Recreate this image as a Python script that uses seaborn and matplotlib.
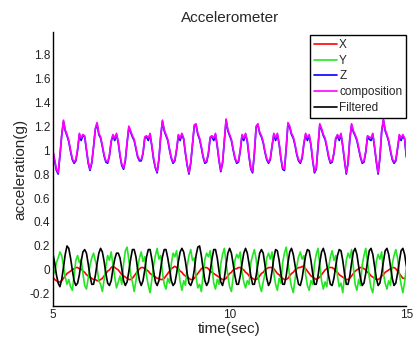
import numpy as np
import matplotlib.pyplot as plt
import seaborn as sns

# sample clock of the recording (20 Hz, 5 s .. 15 s)
time = np.linspace(5, 15, 201)

# values, one row = 0.5 s
acc_x = [
    -0.06, -0.08, -0.09, -0.10, -0.10, -0.09, -0.07, -0.05, -0.03, -0.02,
    -0.01, 0.00, 0.01, 0.02, 0.02, 0.01, 0.01, -0.01, -0.02, -0.04,
    -0.05, -0.06, -0.07, -0.08, -0.08, -0.09, -0.09, -0.08, -0.07, -0.05,
    -0.03, -0.01, 0.00, 0.02, 0.03, 0.02, 0.01, 0.00, -0.02, -0.04,
    -0.05, -0.06, -0.07, -0.08, -0.08, -0.07, -0.05, -0.03, -0.01, 0.01,
    0.02, 0.02, 0.01, 0.00, -0.01, -0.03, -0.04, -0.05, -0.06, -0.07,
    -0.07, -0.08, -0.08, -0.07, -0.05, -0.03, -0.01, 0.01, 0.02, 0.03,
    0.02, 0.01, -0.01, -0.02, -0.04, -0.05, -0.06, -0.07, -0.08, -0.08,
    -0.07, -0.05, -0.03, -0.01, 0.01, 0.02, 0.02, 0.02, 0.01, -0.01,
    -0.02, -0.03, -0.04, -0.05, -0.06, -0.07, -0.08, -0.08, -0.07, -0.05,
    -0.03, -0.02, 0.00, 0.01, 0.01, 0.02, 0.02, 0.01, 0.00, -0.02,
    -0.03, -0.05, -0.06, -0.07, -0.08, -0.08, -0.07, -0.05, -0.03, -0.02,
    0.00, 0.01, 0.02, 0.02, 0.02, 0.01, -0.01, -0.03, -0.04, -0.06,
    -0.07, -0.08, -0.08, -0.07, -0.05, -0.03, -0.02, 0.00, 0.01, 0.02,
    0.02, 0.03, 0.02, 0.01, -0.01, -0.03, -0.05, -0.06, -0.07, -0.08,
    -0.07, -0.06, -0.04, -0.02, 0.00, 0.01, 0.02, 0.02, 0.02, 0.01,
    -0.01, -0.02, -0.04, -0.05, -0.06, -0.07, -0.08, -0.08, -0.07, -0.05,
    -0.03, -0.01, 0.00, 0.01, 0.02, 0.02, 0.01, 0.00, -0.02, -0.03,
    -0.05, -0.06, -0.07, -0.08, -0.08, -0.07, -0.05, -0.04, -0.02, -0.01,
    0.00, 0.01, 0.02, 0.02, 0.01, -0.01, -0.03, -0.05, -0.07, -0.07,
    -0.06,
]

acc_y = [
    -0.04, -0.02, 0.06, 0.10, 0.15, 0.12, 0.03, -0.06, -0.12, -0.08,
    -0.14, -0.17, -0.05, 0.08, 0.12, 0.06, 0.09, -0.03, -0.13, -0.16,
    -0.07, 0.04, 0.10, 0.14, 0.08, 0.02, -0.09, -0.12, -0.18, -0.08,
    0.03, 0.12, 0.08, 0.15, 0.04, -0.06, -0.15, -0.10, -0.05, -0.12,
    0.05, 0.16, 0.19, 0.08, -0.04, -0.10, -0.18, -0.09, 0.02, 0.10,
    0.15, 0.07, 0.11, -0.05, -0.13, -0.19, -0.08, 0.04, 0.12, 0.18,
    0.09, 0.12, -0.02, -0.12, -0.16, -0.07, -0.11, 0.05, 0.14, 0.11,
    0.16, 0.02, -0.10, -0.17, -0.09, -0.13, 0.03, 0.12, 0.17, 0.08,
    0.10, -0.06, -0.15, -0.12, -0.18, -0.04, 0.09, 0.14, 0.11, 0.16,
    0.03, -0.11, -0.16, -0.08, -0.12, 0.05, 0.13, 0.18, 0.06, -0.05,
    -0.14, -0.18, -0.06, 0.08, 0.13, 0.10, 0.15, -0.02, -0.10, -0.15,
    -0.09, -0.12, 0.06, 0.12, 0.17, 0.09, -0.04, -0.13, -0.18, -0.10,
    -0.03, 0.10, 0.14, 0.09, 0.15, -0.03, -0.12, -0.17, -0.07, -0.11,
    0.06, 0.14, 0.19, 0.07, -0.06, -0.14, -0.19, -0.08, 0.03, 0.11,
    0.15, 0.09, 0.12, -0.04, -0.13, -0.17, -0.09, -0.12, 0.05, 0.13,
    0.18, 0.04, -0.09, -0.16, -0.10, -0.14, 0.02, 0.11, 0.16, 0.08,
    0.12, -0.05, -0.14, -0.11, -0.19, -0.05, 0.08, 0.14, 0.10, 0.17,
    0.02, -0.12, -0.17, -0.08, -0.13, 0.04, 0.12, 0.18, 0.07, -0.06,
    -0.15, -0.19, -0.06, 0.07, 0.13, 0.09, 0.15, -0.03, -0.11, -0.16,
    -0.09, -0.13, 0.05, 0.12, 0.17, 0.10, -0.03, -0.12, -0.19, -0.10,
    0.02,
]

acc_z = [
    0.99, 0.91, 0.83, 0.80, 0.95, 1.12, 1.24, 1.16, 1.12, 1.07,
    0.99, 0.92, 0.89, 0.91, 1.00, 1.13, 1.08, 1.12, 1.11, 1.00,
    0.89, 0.83, 0.89, 1.02, 1.17, 1.22, 1.13, 1.10, 1.03, 0.95,
    0.90, 0.89, 0.95, 1.07, 1.12, 1.08, 1.13, 1.06, 0.95, 0.87,
    0.84, 0.91, 1.06, 1.19, 1.15, 1.11, 1.08, 1.01, 0.94, 0.91,
    0.91, 0.97, 1.10, 1.11, 1.08, 1.13, 1.03, 0.92, 0.85, 0.81,
    0.92, 1.11, 1.24, 1.16, 1.12, 1.08, 1.00, 0.93, 0.89, 0.91,
    1.00, 1.12, 1.08, 1.13, 1.09, 0.97, 0.87, 0.80, 0.89, 1.05,
    1.20, 1.21, 1.13, 1.09, 1.02, 0.94, 0.89, 0.90, 0.97, 1.10,
    1.11, 1.08, 1.13, 1.03, 0.91, 0.82, 0.89, 1.07, 1.25, 1.16,
    1.12, 1.08, 1.00, 0.93, 0.89, 0.90, 0.99, 1.12, 1.08, 1.13,
    1.07, 0.94, 0.84, 0.81, 0.97, 1.19, 1.21, 1.14, 1.11, 1.06,
    0.98, 0.92, 0.89, 0.92, 1.03, 1.13, 1.08, 1.13, 1.05, 0.93,
    0.84, 0.83, 1.01, 1.22, 1.19, 1.13, 1.10, 1.04, 0.96, 0.91,
    0.89, 0.93, 1.05, 1.13, 1.08, 1.12, 1.04, 0.91, 0.81, 0.84,
    1.02, 1.21, 1.17, 1.12, 1.09, 1.02, 0.94, 0.89, 0.90, 0.97,
    1.09, 1.12, 1.08, 1.13, 1.03, 0.91, 0.80, 0.89, 1.09, 1.21,
    1.15, 1.12, 1.08, 1.01, 0.94, 0.89, 0.90, 0.98, 1.11, 1.09,
    1.08, 1.13, 1.02, 0.90, 0.80, 0.93, 1.15, 1.25, 1.16, 1.12,
    1.07, 0.99, 0.92, 0.89, 0.91, 1.01, 1.12, 1.08, 1.12, 1.09,
    0.94,
]

composition = [
    1.00, 0.92, 0.84, 0.81, 0.96, 1.13, 1.25, 1.17, 1.13, 1.08,
    1.00, 0.93, 0.90, 0.92, 1.01, 1.14, 1.10, 1.13, 1.12, 1.01,
    0.90, 0.84, 0.90, 1.03, 1.18, 1.23, 1.14, 1.11, 1.04, 0.96,
    0.91, 0.90, 0.96, 1.08, 1.13, 1.10, 1.14, 1.07, 0.96, 0.88,
    0.85, 0.92, 1.07, 1.20, 1.16, 1.12, 1.09, 1.02, 0.95, 0.92,
    0.92, 0.98, 1.11, 1.12, 1.10, 1.14, 1.04, 0.93, 0.86, 0.82,
    0.93, 1.12, 1.25, 1.17, 1.13, 1.09, 1.01, 0.94, 0.90, 0.92,
    1.01, 1.13, 1.10, 1.14, 1.10, 0.98, 0.88, 0.81, 0.90, 1.06,
    1.21, 1.22, 1.14, 1.10, 1.03, 0.95, 0.90, 0.91, 0.98, 1.11,
    1.12, 1.10, 1.14, 1.04, 0.92, 0.83, 0.90, 1.08, 1.26, 1.17,
    1.13, 1.09, 1.01, 0.94, 0.90, 0.91, 1.00, 1.13, 1.10, 1.14,
    1.08, 0.95, 0.85, 0.82, 0.98, 1.20, 1.22, 1.15, 1.12, 1.07,
    0.99, 0.93, 0.90, 0.93, 1.04, 1.14, 1.10, 1.14, 1.06, 0.94,
    0.85, 0.84, 1.02, 1.23, 1.20, 1.14, 1.11, 1.05, 0.97, 0.92,
    0.90, 0.94, 1.06, 1.14, 1.10, 1.13, 1.05, 0.92, 0.82, 0.85,
    1.03, 1.22, 1.18, 1.13, 1.10, 1.03, 0.95, 0.90, 0.91, 0.98,
    1.10, 1.13, 1.10, 1.14, 1.04, 0.92, 0.81, 0.90, 1.10, 1.22,
    1.16, 1.13, 1.09, 1.02, 0.95, 0.90, 0.91, 0.99, 1.12, 1.11,
    1.10, 1.14, 1.03, 0.91, 0.81, 0.94, 1.16, 1.26, 1.17, 1.13,
    1.08, 1.00, 0.93, 0.90, 0.92, 1.02, 1.13, 1.10, 1.13, 1.10,
    0.95,
]

filtered = [
    0.14, 0.06, -0.04, -0.11, -0.14, -0.08, 0.02, 0.13, 0.20, 0.18,
    0.10, 0.00, -0.09, -0.13, -0.11, -0.04, 0.07, 0.15, 0.17, 0.14,
    0.05, -0.05, -0.12, -0.12, -0.05, 0.05, 0.14, 0.18, 0.15, 0.07,
    -0.03, -0.11, -0.13, -0.09, 0.01, 0.09, 0.14, 0.14, 0.10, 0.01,
    -0.09, -0.13, -0.10, -0.01, 0.09, 0.17, 0.17, 0.11, 0.00, -0.09,
    -0.13, -0.09, 0.00, 0.11, 0.17, 0.17, 0.09, -0.01, -0.10, -0.13,
    -0.09, 0.01, 0.11, 0.17, 0.17, 0.10, 0.01, -0.09, -0.13, -0.11,
    -0.03, 0.07, 0.15, 0.18, 0.15, 0.07, -0.03, -0.11, -0.13, -0.09,
    0.00, 0.12, 0.19, 0.20, 0.12, 0.01, -0.09, -0.13, -0.10, -0.01,
    0.09, 0.17, 0.17, 0.10, -0.01, -0.10, -0.13, -0.07, 0.04, 0.14,
    0.18, 0.14, 0.05, -0.05, -0.12, -0.12, -0.05, 0.05, 0.14, 0.18,
    0.14, 0.05, -0.05, -0.12, -0.12, -0.05, 0.05, 0.14, 0.17, 0.14,
    0.04, -0.07, -0.13, -0.10, -0.01, 0.10, 0.17, 0.16, 0.08, -0.03,
    -0.12, -0.12, -0.05, 0.06, 0.15, 0.18, 0.13, 0.04, -0.05, -0.12,
    -0.13, -0.07, 0.03, 0.12, 0.17, 0.16, 0.08, -0.03, -0.12, -0.12,
    -0.05, 0.06, 0.15, 0.18, 0.13, 0.04, -0.05, -0.12, -0.13, -0.07,
    0.03, 0.12, 0.17, 0.16, 0.08, -0.03, -0.12, -0.12, -0.05, 0.06,
    0.15, 0.18, 0.13, 0.03, -0.07, -0.13, -0.11, -0.03, 0.07, 0.16,
    0.18, 0.13, 0.03, -0.07, -0.13, -0.11, -0.03, 0.07, 0.16, 0.18,
    0.13, 0.03, -0.07, -0.13, -0.11, -0.03, 0.07, 0.16, 0.18, 0.13,
    0.03,
]

series_names = ["X", "Y", "Z", "composition", "Filtered"]
series_colors = ["#ff0000", "#22e622", "#0000ff", "#ff00ff", "#000000"]

y_ticks = [-0.2, 0, 0.2, 0.4, 0.6, 0.8, 1, 1.2, 1.4, 1.6, 1.8]
y_tick_labels = ["-0.2", "0", "0.2", "0.4", "0.6", "0.8", "1", "1.2", "1.4", "1.6", "1.8"]
x_ticks = [5, 10, 15]

sns.set_style("white")
plt.rcParams['font.family'] = ['Liberation Sans', 'DejaVu Sans']

fig = plt.figure(figsize=(4.13, 3.41), dpi=100)
ax = fig.add_axes([0.128, 0.103, 0.856, 0.803])

for name, vals, col in zip(series_names, [acc_x, acc_y, acc_z, composition, filtered], series_colors):
    sns.lineplot(x=time, y=vals, color=col, linewidth=1.2, label=name, ax=ax,
                 estimator=None, errorbar=None)

ax.set_xlim(5, 15)
ax.set_ylim(-0.3, 1.985)
ax.set_xticks(x_ticks)
ax.set_xticklabels([str(v) for v in x_ticks])
ax.set_yticks(y_ticks)
ax.set_yticklabels(y_tick_labels)
ax.tick_params(direction='in', length=3, width=0.8, labelsize=8.5, colors='#222222', pad=2)

sns.despine(ax=ax)
for side in ['left', 'bottom']:
    ax.spines[side].set_color('black')
    ax.spines[side].set_linewidth(1.0)

ax.set_title('Accelerometer', fontsize=11, pad=7)
ax.set_xlabel('time(sec)', fontsize=11, labelpad=1)
ax.set_ylabel('acceleration(g)', fontsize=11, labelpad=2)

leg = ax.legend(loc='upper right', bbox_to_anchor=(1.0, 0.99), fontsize=8.5,
                frameon=True, fancybox=False, framealpha=1, edgecolor='black',
                handlelength=2.0, handletextpad=0.15, labelspacing=0.32,
                borderpad=0.35, borderaxespad=0)
leg.get_frame().set_linewidth(1.0)

fig.savefig("out.png", dpi=100)
